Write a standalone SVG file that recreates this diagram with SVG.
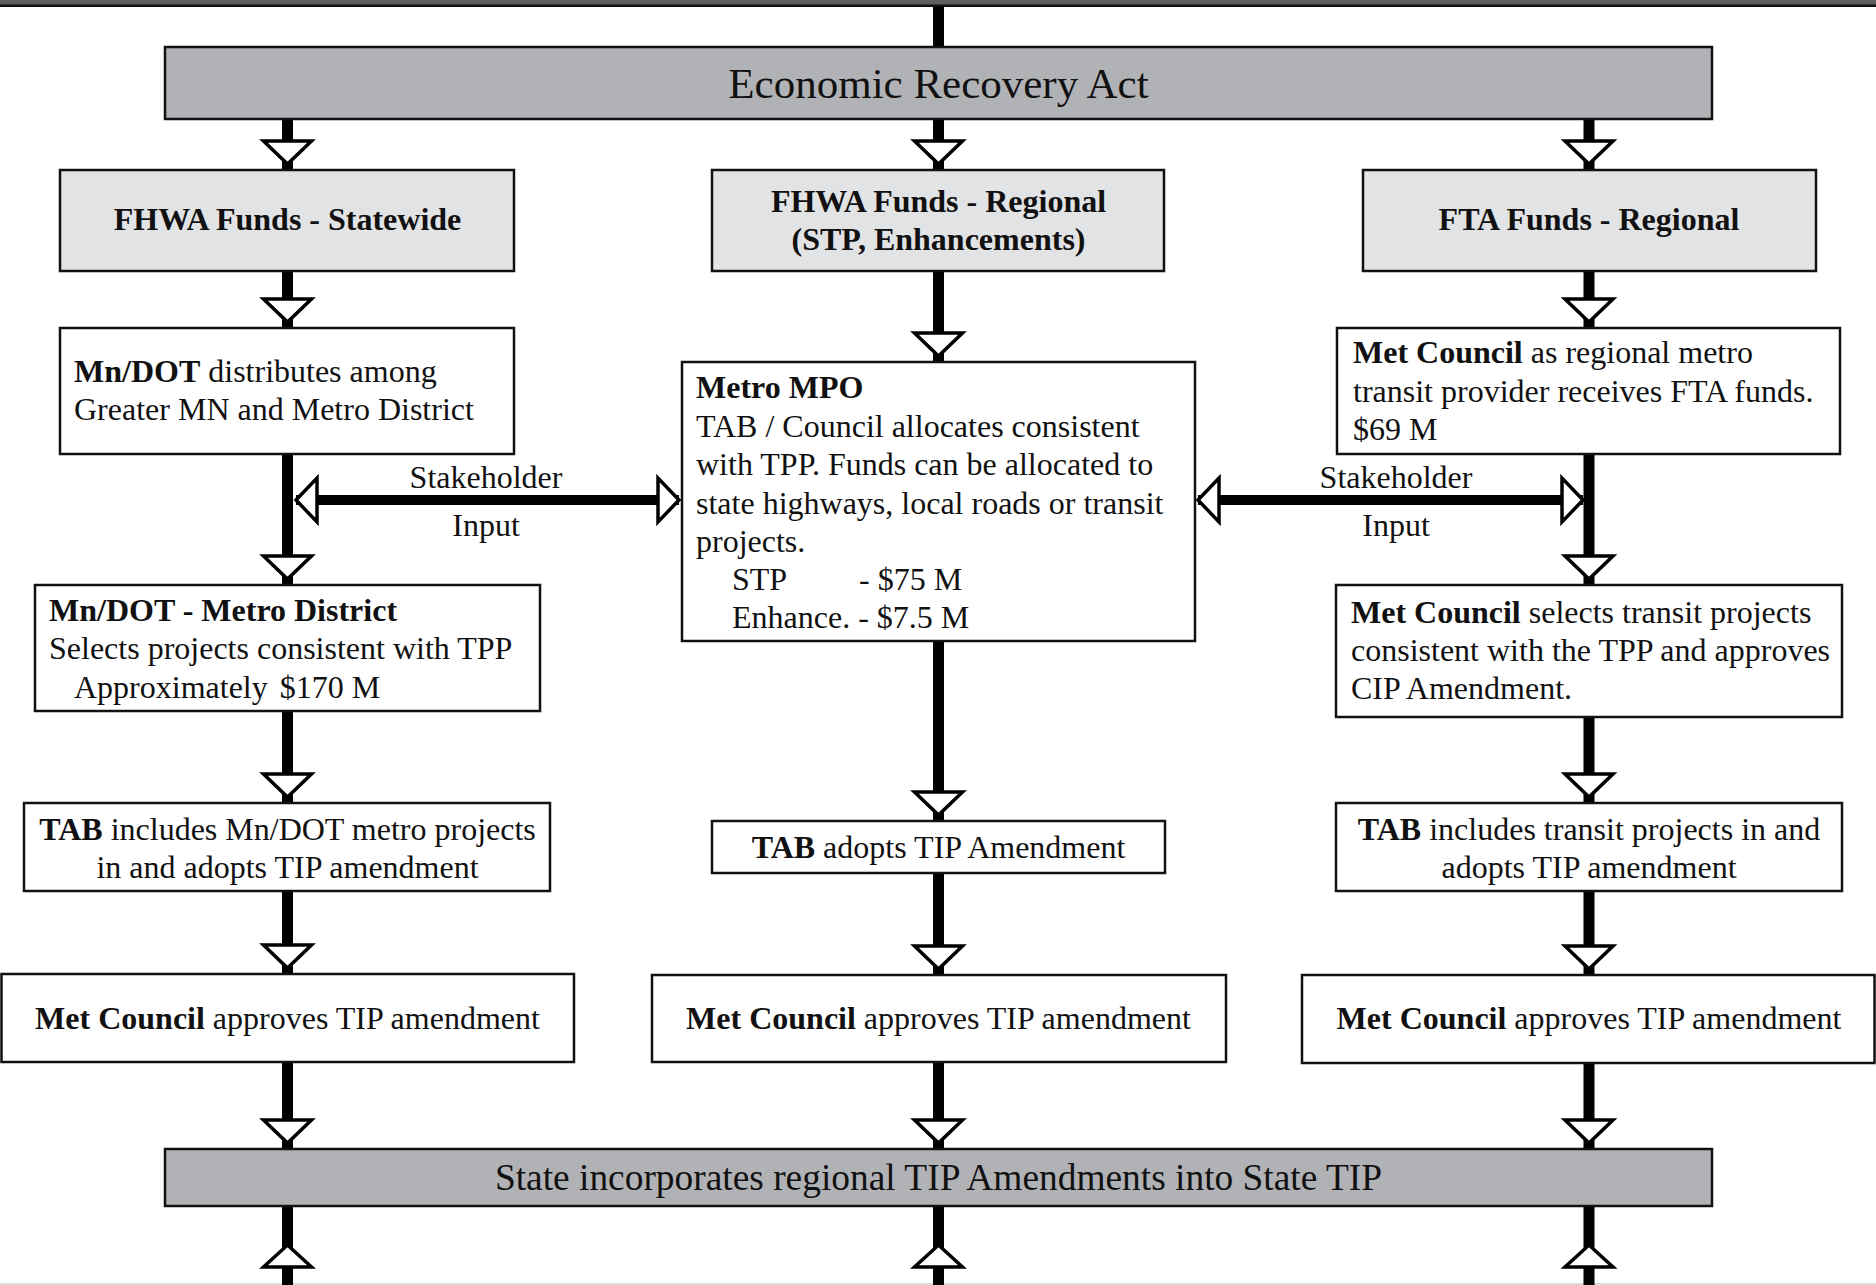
<svg xmlns="http://www.w3.org/2000/svg" xmlns:xlink="http://www.w3.org/1999/xlink" width="1876" height="1285" viewBox="0 0 1876 1285">
<style>
.box{stroke:#111;stroke-width:2.5}
.w{fill:#fff}
.lg{fill:#e2e3e5}
.dg{fill:#b1b2b5}
.conn{stroke:#000;stroke-width:11;fill:none}
.hconn{stroke:#000;stroke-width:10;fill:none}
.ah{fill:#fff;stroke:#000;stroke-width:3.5;stroke-linejoin:miter}
text{font-family:"Liberation Serif","Times New Roman",serif;fill:#111}
.t32{font-size:32px}
.hd{font-size:32px;font-weight:bold}
.b{font-weight:bold}
.c{text-anchor:middle}
</style>
<defs>
<polygon id="ahd" points="-24,-23 24,-23 0,0"/>
<polygon id="ahu" points="-24,22 24,22 0,0"/>
<polygon id="ahl" points="0,0 21,-22 21,22"/>
<polygon id="ahr" points="0,0 -21,-22 -21,22"/>
</defs>
<rect width="1876" height="1285" fill="#fff"/>
<g id="top-band">
<rect x="0" y="0" width="1876" height="5" fill="#5e5f61"/>
<rect x="0" y="4.5" width="1876" height="2.5" fill="#111"/>
</g>
<rect x="0" y="1283" width="1876" height="2" fill="#dcdcdc"/>

<g id="connectors">
<path class="conn" d="M938.5 7V47M287.5 119V170M287.5 271V328M287.5 454V585M287.5 711V803M287.5 891V974M287.5 1062V1149M287.5 1206V1285
M938.5 119V170M938.5 271V362M938.5 641V821M938.5 873V975M938.5 1062V1149M938.5 1206V1285
M1589 119V170M1589 271V328M1589 455V585M1589 717V803M1589 891V975M1589 1063V1149M1589 1206V1285"/>
<path class="hconn" d="M296 500H679M1198 500H1583"/>
<g class="ah">
<use xlink:href="#ahd" x="287.5" y="164"/>
<use xlink:href="#ahd" x="287.5" y="322"/>
<use xlink:href="#ahd" x="287.5" y="579"/>
<use xlink:href="#ahd" x="287.5" y="797"/>
<use xlink:href="#ahd" x="287.5" y="968"/>
<use xlink:href="#ahd" x="287.5" y="1143"/>
<use xlink:href="#ahu" x="287.5" y="1245"/>
<use xlink:href="#ahd" x="938.5" y="164"/>
<use xlink:href="#ahd" x="938.5" y="356"/>
<use xlink:href="#ahd" x="938.5" y="815"/>
<use xlink:href="#ahd" x="938.5" y="969"/>
<use xlink:href="#ahd" x="938.5" y="1143"/>
<use xlink:href="#ahu" x="938.5" y="1245"/>
<use xlink:href="#ahd" x="1589" y="164"/>
<use xlink:href="#ahd" x="1589" y="322"/>
<use xlink:href="#ahd" x="1589" y="579"/>
<use xlink:href="#ahd" x="1589" y="797"/>
<use xlink:href="#ahd" x="1589" y="969"/>
<use xlink:href="#ahd" x="1589" y="1143"/>
<use xlink:href="#ahu" x="1589" y="1245"/>
<use xlink:href="#ahl" x="296" y="500"/>
<use xlink:href="#ahr" x="679" y="500"/>
<use xlink:href="#ahl" x="1198" y="500"/>
<use xlink:href="#ahr" x="1583" y="500"/>
</g>
<text class="t32 c" x="486" y="488">Stakeholder</text>
<text class="t32 c" x="486" y="536">Input</text>
<text class="t32 c" x="1396" y="488">Stakeholder</text>
<text class="t32 c" x="1396" y="536">Input</text>
</g>

<g id="era">
<rect class="box dg" x="165" y="47" width="1547" height="72"/>
<text class="c" x="938.5" y="98" font-size="43">Economic Recovery Act</text>
</g>
<g id="fhwa-statewide">
<rect class="box lg" x="60" y="170" width="454" height="101"/>
<text class="hd c" x="287.5" y="230">FHWA Funds - Statewide</text>
</g>
<g id="fhwa-regional">
<rect class="box lg" x="712" y="170" width="452" height="101"/>
<text class="hd c" x="938.5" y="212">FHWA Funds - Regional</text>
<text class="hd c" x="938.5" y="250">(STP, Enhancements)</text>
</g>
<g id="fta-regional">
<rect class="box lg" x="1363" y="170" width="453" height="101"/>
<text class="hd c" x="1589" y="230">FTA Funds - Regional</text>
</g>
<g id="mndot-distributes">
<rect class="box w" x="60" y="328" width="454" height="126"/>
<text class="t32" x="74" y="382"><tspan class="b">Mn/DOT</tspan> distributes among</text>
<text class="t32" x="74" y="420">Greater MN and Metro District</text>
</g>
<g id="metro-mpo">
<rect class="box w" x="682" y="362" width="513" height="279"/>
<text class="t32" x="696" y="398"><tspan class="b">Metro MPO</tspan></text>
<text class="t32" x="696" y="437">TAB / Council allocates consistent</text>
<text class="t32" x="696" y="475">with TPP. Funds can be allocated to</text>
<text class="t32" x="696" y="514">state highways, local roads or transit</text>
<text class="t32" x="696" y="552">projects.</text>
<text class="t32" x="732" y="590">STP</text>
<text class="t32" x="859" y="590">- $75 M</text>
<text class="t32" x="732" y="628">Enhance. - $7.5 M</text>
</g>
<g id="metcouncil-fta">
<rect class="box w" x="1337" y="328" width="503" height="126"/>
<text class="t32" x="1353" y="363"><tspan class="b">Met Council</tspan> as regional metro</text>
<text class="t32" x="1353" y="402">transit provider receives FTA funds.</text>
<text class="t32" x="1353" y="440">$69 M</text>
</g>
<g id="mndot-metro-district">
<rect class="box w" x="35" y="585" width="505" height="126"/>
<text class="t32" x="49" y="621"><tspan class="b">Mn/DOT - Metro District</tspan></text>
<text class="t32" x="49" y="659">Selects projects consistent with TPP</text>
<text class="t32" x="74" y="698">Approximately <tspan dx="4">$170 M</tspan></text>
</g>
<g id="metcouncil-selects">
<rect class="box w" x="1336" y="585" width="506" height="132"/>
<text class="t32" x="1351" y="623"><tspan class="b">Met Council</tspan> selects transit projects</text>
<text class="t32" x="1351" y="661">consistent with the TPP and approves</text>
<text class="t32" x="1351" y="699">CIP Amendment.</text>
</g>
<g id="tab-left">
<rect class="box w" x="24" y="803" width="526" height="88"/>
<text class="t32 c" x="287.5" y="840"><tspan class="b">TAB</tspan> includes Mn/DOT metro projects</text>
<text class="t32 c" x="287.5" y="878">in and adopts TIP amendment</text>
</g>
<g id="tab-mid">
<rect class="box w" x="712" y="821" width="453" height="52"/>
<text class="t32 c" x="938.5" y="858"><tspan class="b">TAB</tspan> adopts TIP Amendment</text>
</g>
<g id="tab-right">
<rect class="box w" x="1336" y="803" width="506" height="88"/>
<text class="t32 c" x="1589" y="840"><tspan class="b">TAB</tspan> includes transit projects in and</text>
<text class="t32 c" x="1589" y="878">adopts TIP amendment</text>
</g>
<g id="metcouncil-left">
<rect class="box w" x="1.5" y="974" width="572.5" height="88"/>
<text class="t32 c" x="287.5" y="1029"><tspan class="b">Met Council</tspan> approves TIP amendment</text>
</g>
<g id="metcouncil-mid">
<rect class="box w" x="652" y="975" width="574" height="87"/>
<text class="t32 c" x="938.5" y="1029"><tspan class="b">Met Council</tspan> approves TIP amendment</text>
</g>
<g id="metcouncil-right">
<rect class="box w" x="1302" y="975" width="572.5" height="88"/>
<text class="t32 c" x="1589" y="1029"><tspan class="b">Met Council</tspan> approves TIP amendment</text>
</g>
<g id="state">
<rect class="box dg" x="165" y="1149" width="1547" height="57"/>
<text class="c" x="938.5" y="1190" font-size="37.4">State incorporates regional TIP Amendments into State TIP</text>
</g>
</svg>
